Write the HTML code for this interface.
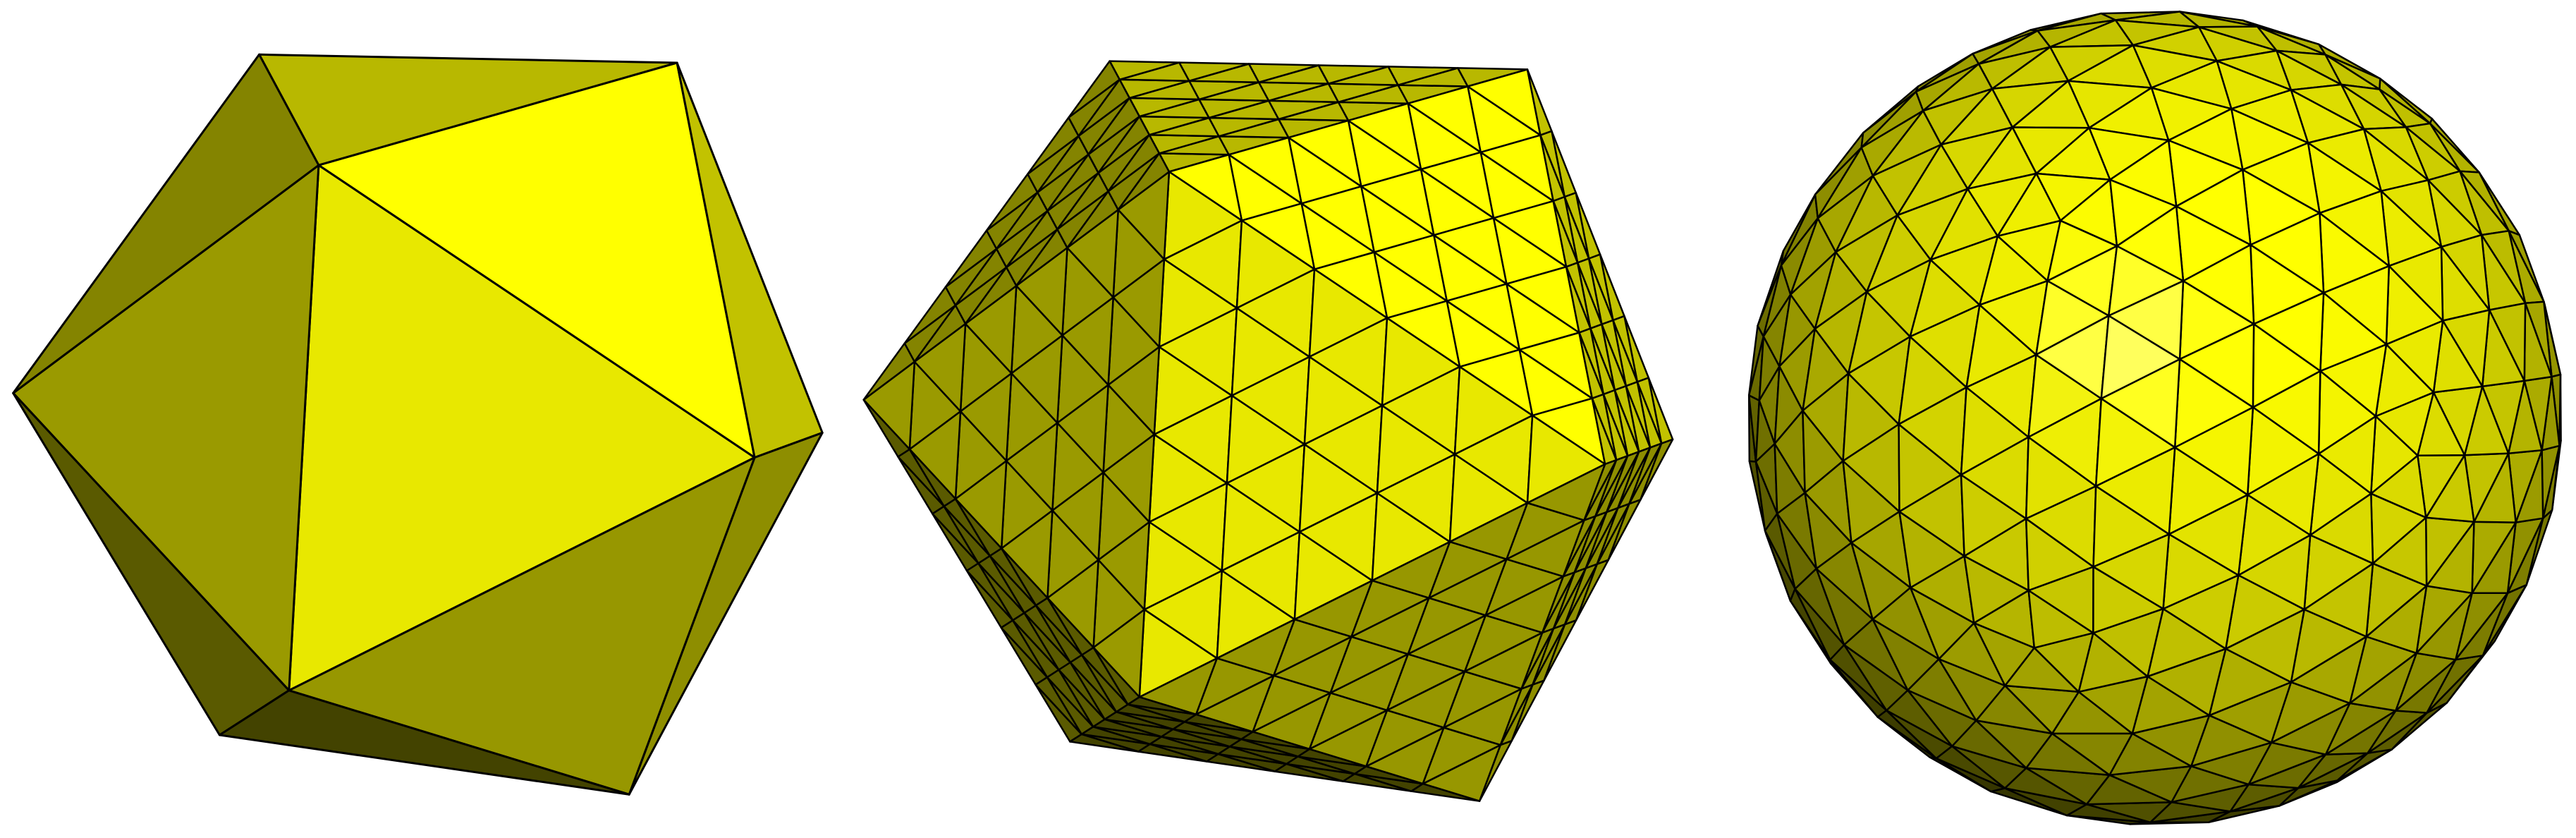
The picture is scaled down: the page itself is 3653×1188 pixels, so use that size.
<!DOCTYPE html>
<html><head><meta charset="utf-8"><style>
html,body{margin:0;padding:0;background:#fff;width:3653px;height:1188px;overflow:hidden}
svg{display:block}
</style></head><body>
<svg id="scene" width="3653" height="1188" viewBox="0 0 3653 1188" xmlns="http://www.w3.org/2000/svg">
<rect x="0" y="0" width="3653" height="1188" fill="#ffffff"/>
<g id="ico"></g>
<g id="sub"></g>
<g id="sph"></g>
</svg>
<script>
const S = 3653/1560;
const vx = {P1:[157,33],P2:[410,38],P3:[193,100],P4:[8,238],P5:[457,277],P6:[498,262],P7:[175,418],P8:[133,445],P9:[381,481]};
const faceList = [["P1","P2","P3"],["P2","P3","P5"],["P3","P5","P7"],["P3","P4","P7"],["P1","P3","P4"],["P2","P5","P6"],["P5","P6","P9"],["P5","P7","P9"],["P4","P7","P8"],["P7","P8","P9"]];
const faceColors = ["#b8b800","#ffff00","#e8e800","#9a9a00","#848400","#c2c200","#8e8e00","#979700","#5a5a00","#434300"];
const midOffset = [515,4];
const freq = 6;
const sphereCenter = [1305,253];
const sphereRadius = 247;
const NS = "http://www.w3.org/2000/svg";

function P(k,off){const p=vx[k];return [(p[0]+off[0])*S,(p[1]+off[1])*S];}
function poly(g,pts,fill,sw){
  const e=document.createElementNS(NS,"polygon");
  e.setAttribute("points",pts.map(p=>p[0].toFixed(1)+","+p[1].toFixed(1)).join(" "));
  e.setAttribute("fill",fill);e.setAttribute("stroke","#000");
  e.setAttribute("stroke-width",sw);e.setAttribute("stroke-linejoin","round");
  g.appendChild(e);return e;
}
const gI=document.getElementById("ico");
faceList.forEach((f,i)=>{
  const e=poly(gI,f.map(k=>P(k,[0,0])),faceColors[i],3);
  
  
});
const gS=document.getElementById("sub");
faceList.forEach((f,i)=>{
  const A=P(f[0],midOffset),B=P(f[1],midOffset),C=P(f[2],midOffset);
  const pt=(a,b)=>{const c=freq-a-b;return [(A[0]*a+B[0]*b+C[0]*c)/freq,(A[1]*a+B[1]*b+C[1]*c)/freq];};
  for(let a=0;a<freq;a++)for(let b=0;b<freq-a;b++){
    let e=poly(gS,[pt(a,b),pt(a+1,b),pt(a,b+1)],faceColors[i],2.5);
    
    
    if(a+b<freq-1){
      e=poly(gS,[pt(a+1,b),pt(a+1,b+1),pt(a,b+1)],faceColors[i],2.5);
      
      
    }
  }
});
const phi=(1+Math.sqrt(5))/2;
const V=[[0,1,phi],[0,-1,phi],[0,1,-phi],[0,-1,-phi],[1,phi,0],[-1,phi,0],[1,-phi,0],[-1,-phi,0],[phi,0,1],[-phi,0,1],[phi,0,-1],[-phi,0,-1]];
const d2=(a,b)=>(a[0]-b[0])**2+(a[1]-b[1])**2+(a[2]-b[2])**2;
const adj=(i,j)=>i!==j&&Math.abs(d2(V[i],V[j])-4)<1e-6;
const F=[];
for(let i=0;i<12;i++)for(let j=i+1;j<12;j++)for(let k=j+1;k<12;k++)if(adj(i,j)&&adj(j,k)&&adj(i,k))F.push([i,j,k]);
const [a,b,c]=F[0];
const nb=i=>[...Array(12).keys()].filter(j=>adj(i,j));
const only=(x,excl)=>nb(x).filter(j=>!excl.includes(j));
const ab=nb(a).find(j=>adj(b,j)&&j!==c), ac=nb(a).find(j=>adj(c,j)&&j!==b), bc=nb(b).find(j=>adj(c,j)&&j!==a);
const aO=only(a,[b,c,ab,ac])[0], bO=only(b,[a,c,ab,bc])[0], cO=only(c,[a,b,ac,bc])[0];
const corr=[[a,"P3"],[b,"P5"],[c,"P7"],[ab,"P2"],[aO,"P1"],[ac,"P4"],[cO,"P8"],[bc,"P9"],[bO,"P6"]];
function solve(Mat,y){const n=y.length;const A=Mat.map((r,i)=>[...r,y[i]]);
  for(let i=0;i<n;i++){let p=i;for(let r=i+1;r<n;r++)if(Math.abs(A[r][i])>Math.abs(A[p][i]))p=r;[A[i],A[p]]=[A[p],A[i]];
    for(let r=0;r<n;r++)if(r!==i){const f=A[r][i]/A[i][i];for(let q=i;q<=n;q++)A[r][q]-=f*A[i][q];}}
  return A.map((r,i)=>r[n]/r[i]);}
function fit(dim){const N=[[0,0,0,0],[0,0,0,0],[0,0,0,0],[0,0,0,0]],y=[0,0,0,0];
  corr.forEach(([vi,k])=>{const r=[...V[vi],1];for(let i=0;i<4;i++){y[i]+=r[i]*vx[k][dim];for(let j=0;j<4;j++)N[i][j]+=r[i]*r[j];}});
  return solve(N,y);}
const m1=fit(0).slice(0,3),m2=fit(1).slice(0,3);
const nrm=v=>{const l=Math.hypot(...v);return v.map(x=>x/l);};
const dot=(u,v)=>u[0]*v[0]+u[1]*v[1]+u[2]*v[2];
const cross=(u,v)=>[u[1]*v[2]-u[2]*v[1],u[2]*v[0]-u[0]*v[2],u[0]*v[1]-u[1]*v[0]];
const r1=nrm(m1);let r2=m2.map((x,i)=>x-dot(m2,r1)*r1[i]);r2=nrm(r2);
let r3=cross(r1,r2);const fc=[0,1,2].map(i=>V[a][i]+V[b][i]+V[c][i]);if(dot(r3,fc)<0)r3=r3.map(x=>-x);
const verts=[];
F.forEach(([i,j,k])=>{
  const A=V[i],B=V[j],C=V[k];
  const pt=(x,y)=>{const z=freq-x-y;return nrm([0,1,2].map(q=>(A[q]*x+B[q]*y+C[q]*z)));};
  for(let x=0;x<freq;x++)for(let y=0;y<freq-x;y++){
    verts.push([pt(x,y),pt(x+1,y),pt(x,y+1)]);
    if(x+y<freq-1)verts.push([pt(x+1,y),pt(x+1,y+1),pt(x,y+1)]);
  }
});
const L=nrm([0.15,-0.35,0.92]);const H=nrm([-0.15,-0.35,1.8]);
const tris=[];
verts.forEach(t=>{
  const v=t.map(p=>[dot(r1,p),dot(r2,p),dot(r3,p)]);
  const e1=[0,1,2].map(q=>v[1][q]-v[0][q]),e2=[0,1,2].map(q=>v[2][q]-v[0][q]);
  let n=nrm(cross(e1,e2));const cen=[0,1,2].map(q=>(v[0][q]+v[1][q]+v[2][q])/3);
  if(dot(n,cen)<0)n=n.map(x=>-x);
  if(n[2]<=0.0)return;
  tris.push({v,n,z:cen[2]});
});
tris.sort((p,q)=>p.z-q.z);
const gP=document.getElementById("sph");
tris.forEach(t=>{
  const d=dot(t.n,L);
  const dif=Math.max(0,(d+0.3)/1.3);
  const sp=Math.pow(Math.max(0,dot(t.n,nrm(H))),80)*0.4;
  const k=Math.min(1,0.2+0.82*dif);
  const rg=Math.round(Math.min(255,255*k+40*sp)),bl=Math.round(255*Math.min(1,sp));
  const pts=t.v.map(p=>[(sphereCenter[0]+sphereRadius*p[0])*S,(sphereCenter[1]+sphereRadius*p[1])*S]);
  const e=poly(gP,pts,`rgb(${rg},${rg},${bl})`,2.5);
  
  
});
</script>
</body></html>
